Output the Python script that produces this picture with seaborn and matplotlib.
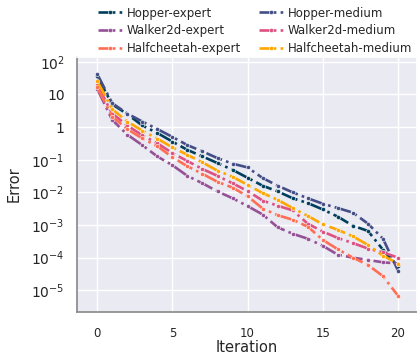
import matplotlib
matplotlib.use("Agg")
import matplotlib.pyplot as plt
import matplotlib.ticker as mticker
import numpy as np
import pandas as pd
import seaborn as sns

iterations = list(range(21))

hopper_expert = [35.5, 5.0, 2.5, 1.12, 0.66, 0.36, 0.20, 0.126, 0.079, 0.049, 0.028,
                 0.016, 0.0107, 0.0066, 0.0047, 0.0030, 0.0018, 0.00095, 0.00066,
                 0.000174, 5.4e-5]
hopper_medium = [42.7, 5.4, 2.6, 1.48, 0.87, 0.50, 0.28, 0.18, 0.112, 0.076, 0.058,
                 0.0275, 0.016, 0.010, 0.0066, 0.0045, 0.0033, 0.0024, 0.0011,
                 0.00038, 4.0e-5]
walker_expert = [15.1, 1.66, 0.59, 0.28, 0.126, 0.068, 0.032, 0.019, 0.0107, 0.0066,
                 0.0038, 0.0021, 0.00085, 0.00054, 0.00038, 0.00023, 0.000123,
                 0.0001, 8.5e-5, 7.2e-5, 6.6e-5]
walker_medium = [20.0, 2.6, 1.12, 0.56, 0.32, 0.16, 0.091, 0.052, 0.032, 0.019, 0.011,
                 0.0056, 0.0039, 0.0028, 0.0011, 0.00063, 0.0004, 0.00028, 0.00019,
                 0.000145, 0.0001]
cheetah_expert = [16.6, 2.1, 0.87, 0.45, 0.26, 0.12, 0.063, 0.037, 0.021, 0.014, 0.0076,
                  0.0032, 0.002, 0.00145, 0.00089, 0.00035, 0.00018, 0.0001, 6.0e-5,
                  2.7e-5, 6.8e-6]
cheetah_medium = [26.3, 3.55, 1.48, 0.78, 0.44, 0.24, 0.141, 0.083, 0.046, 0.030, 0.017,
                  0.0095, 0.0059, 0.0033, 0.0019, 0.00105, 0.00071, 0.00045, 0.000245,
                  0.000115, 6.6e-5]

labels = ["Hopper-expert", "Hopper-medium", "Walker2d-expert", "Walker2d-medium",
          "Halfcheetah-expert", "Halfcheetah-medium"]
series = [hopper_expert, hopper_medium, walker_expert, walker_medium,
          cheetah_expert, cheetah_medium]
colors = ["#003f5c", "#444e86", "#955196", "#dd5182", "#ff6e54", "#ffa600"]
y_ticks = [1e-5, 1e-4, 1e-3, 1e-2, 1e-1, 1, 10, 100]

sns.set_theme(style="darkgrid")
plt.rcParams["font.family"] = ["DejaVu Sans"]

fig = plt.figure(figsize=(4.17, 3.58), dpi=100)
ax = fig.add_axes([0.185, 0.128, 0.815, 0.713])

for lab, vals, col in zip(labels, series, colors):
    df = pd.DataFrame({"Iteration": iterations, "Error": vals})
    sns.lineplot(data=df, x="Iteration", y="Error", ax=ax, color=col, label=lab,
                 linestyle="-.", linewidth=1.9, marker="o", markersize=3,
                 markeredgecolor="white", markeredgewidth=0.4)

ax.set_yscale("log")
ax.set_xlim(-1.33, 21.26)
ax.set_ylim(10 ** -5.67, 10 ** 2.15)
ax.set_xticks([0, 5, 10, 15, 20])
ax.yaxis.set_major_locator(mticker.FixedLocator(y_ticks))
ax.yaxis.set_minor_locator(mticker.NullLocator())


def fmt(v, pos):
    e = int(round(np.log10(v)))
    if e == 0:
        return "1"
    if e == 1:
        return "10"
    return r"$\mathdefault{10^{%d}}$" % e


ax.yaxis.set_major_formatter(mticker.FuncFormatter(fmt))
ax.tick_params(axis="x", labelsize=8.5, pad=5)
ax.tick_params(axis="y", labelsize=10, pad=3)
ax.set_xlabel("Iteration", fontsize=10.5)
ax.set_ylabel("Error", fontsize=10.5)
ax.xaxis.set_label_coords(0.5, -0.108)
ax.yaxis.set_label_coords(-0.162, 0.5)
for s in ["left", "bottom"]:
    ax.spines[s].set_visible(True)
    ax.spines[s].set_color("#888888")
    ax.spines[s].set_linewidth(1.2)

# row-major legend order like the reference
handles, labs = ax.get_legend_handles_labels()
order = [0, 2, 4, 1, 3, 5]
ax.get_legend().remove()
fig.legend([handles[i] for i in order], [labs[i] for i in order], ncol=2,
           loc="upper left", bbox_to_anchor=(0.221, 0.998), frameon=False,
           fontsize=8.5, handlelength=2.0, handletextpad=0.4, columnspacing=1.58,
           labelspacing=0.4, borderpad=0)

fig.savefig("out.png", dpi=100)
